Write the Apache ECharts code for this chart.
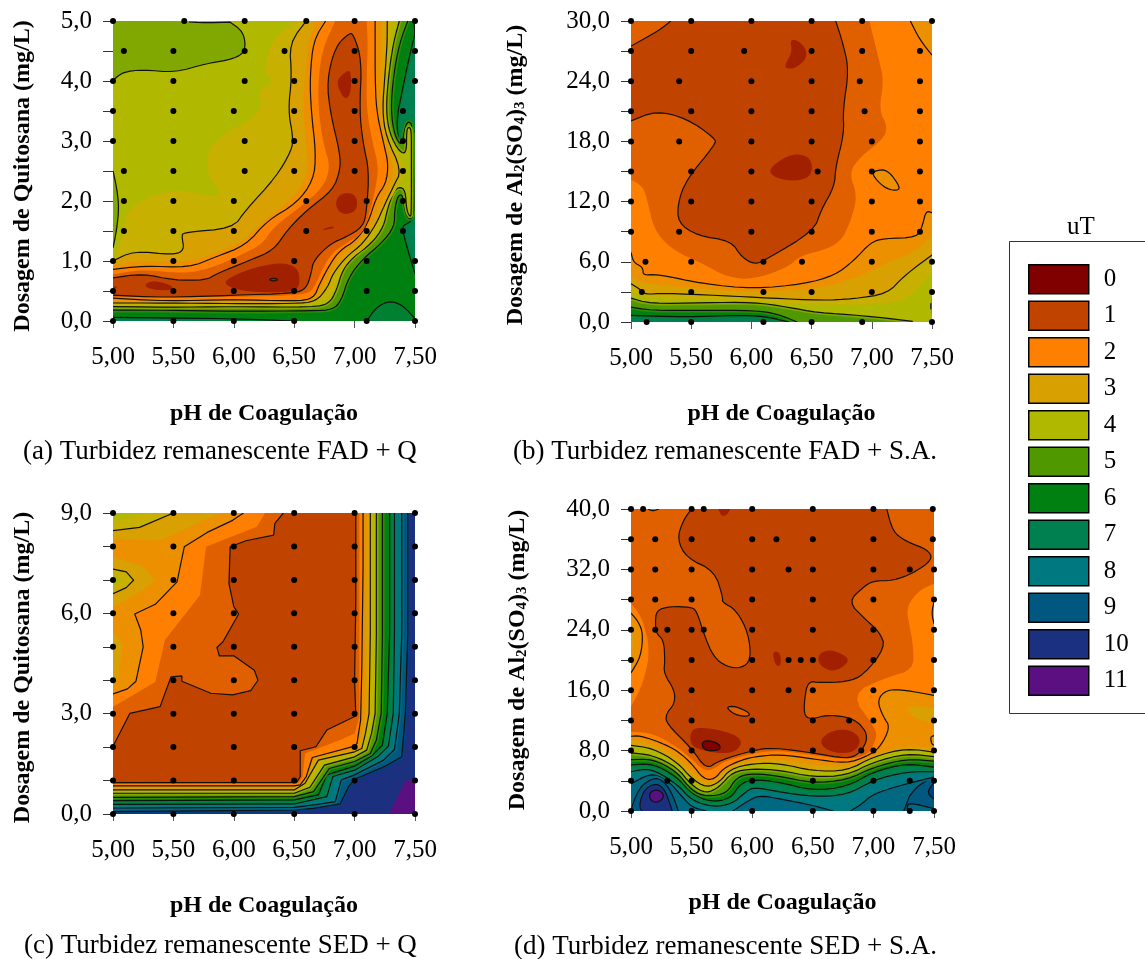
<!DOCTYPE html>
<html><head><meta charset="utf-8">
<style>html,body{margin:0;padding:0;background:#fff}#c{width:1145px;height:959px}</style>
<script src="https://cdn.jsdelivr.net/npm/echarts@6/dist/echarts.min.js"></script>
</head><body><div id="c"></div>
<script>
const bandColors={0:'#800000',0.5:'#a02000',1:'#c04400',1.5:'#e06000',2:'#ff8000',2.5:'#ec9000',3:'#d8a000',3.5:'#c8b000',4:'#b0b800',4.5:'#80a800',5:'#509800',5.5:'#288c08',6:'#008010',6.5:'#008030',7:'#008050',7.5:'#007c68',8:'#007880',8.5:'#006880',9:'#005880',9.5:'#004080',10:'#1c3080',10.5:'#3c2080',11:'#5a1080'};
const legendLevels=['0','1','2','3','4','5','6','7','8','9','10','11'];

// Panel (a) contour regions: flat [pH, dose, pH, dose, ...]
const aL7=[5,0,7.5,0,7.5,5,5,5];
const aL6=[7.49,5,7.5,4.79,7.44,4.29,7.39,3.79,7.35,3.40,7.36,2.98,7.40,2.98,7.42,3.26,7.44,3.33,7.49,3.26,7.5,2.79,7.5,1.84,7.47,1.67,7.43,1.62,7.39,1.57,7.44,1.18,7.5,.79,7.5,0,6.5,0,5.99,.04,5,.06,5,5];
const aHump=[7.10,0,7.18,.23,7.29,.34,7.40,.26,7.5,.04,7.5,0];
const aL5=[7.44,5,7.37,4.62,7.32,4.07,7.30,3.51,7.33,3.10,7.39,2.90,7.42,3.26,7.45,3.33,7.48,3.25,7.49,2.18,7.49,1.79,7.46,1.68,7.42,1.79,7.40,2.10,7.36,2.10,7.33,1.85,7.33,1.57,7.22,1.29,7.07,1.04,6.95,.73,6.89,.34,6.82,.19,6.66,.17,5.99,.16,5.44,.18,5,.18,5,5];
const aL4=[7.37,5,7.32,4.63,7.28,4.07,7.26,3.51,7.29,3.12,7.37,2.82,7.43,2.79,7.43,3.18,7.45,3.24,7.47,3.18,7.47,2.74,7.47,1.79,7.46,1.73,7.43,1.85,7.42,2.18,7.37,2.24,7.32,2.15,7.27,1.85,7.24,1.57,7.14,1.29,6.99,1.07,6.90,.85,6.85,.51,6.79,.29,6.66,.23,5.99,.24,5.44,.23,5,.24,5,5];
const aL35=[6.52,5,7.32,5,7.29,4.63,7.26,4.07,7.25,3.51,7.28,3.10,7.37,2.74,7.42,2.51,7.35,2.21,7.26,1.90,7.21,1.60,7.10,1.23,6.96,1.04,6.86,.73,6.82,.46,6.71,.28,5.99,.27,5,.27,5,1.04,5.06,1.23,5.10,1.73,5.19,1.98,5.52,2.21,5.80,2.07,5.90,2.12,5.77,2.46,5.80,2.99,6.24,3.46,6.20,3.85,6.34,3.99,6.24,4.15,6.32,4.71];
const aL3=[6.60,5,7.27,5,7.27,4.63,7.25,4.07,7.23,3.51,7.26,3.07,7.39,2.51,7.32,2.24,7.24,1.90,7.18,1.62,7.07,1.29,6.93,1.07,6.82,.79,6.78,.57,6.68,.32,6.50,.29,5.99,.29,5.44,.30,5,.30,5,1,5.17,1.17,5.50,1.10,5.59,1.18,5.57,1.40,5.58,1.48,5.99,1.54,6.10,1.85,6.35,2.40,6.48,2.85,6.49,3.07,6.45,3.51,6.48,4.07,6.46,4.63];
const aL25=[6.68,5,7.22,5,7.22,4.07,7.21,3.51,7.25,3.01,7.33,2.57,7.29,2.24,7.21,1.90,7.14,1.62,7.04,1.32,6.89,1.10,6.80,.82,6.74,.59,6.66,.34,5.99,.33,5,.33,5,.93,5.22,1.01,5.63,.98,5.83,1.12,6.08,1.32,6.21,1.62,6.44,1.96,6.60,2.34,6.61,2.79,6.57,3.51,6.59,4.07,6.62,4.68];
const aL2=[6.76,5,7.17,5,7.17,4.63,7.17,4.07,7.18,3.51,7.24,2.96,7.28,2.62,7.26,2.29,7.18,2.07,7.11,1.62,7.01,1.34,6.88,1.18,6.80,.96,6.71,.62,6.66,.37,6.50,.33,5.99,.36,5.44,.33,5,.38,5,.86,5.25,.92,5.63,.89,5.84,1.06,6.10,1.26,6.28,1.68,6.52,1.96,6.66,2.35,6.68,2.79,6.64,3.51,6.63,4.07,6.66,4.68];
const aL15=[6.84,5,7.10,5,7.11,4.63,7.10,4.07,7.10,3.51,7.15,2.96,7.20,2.57,7.17,2.18,7.13,1.84,7.07,1.46,6.95,1.32,6.82,1.15,6.74,.90,6.67,.57,6.60,.43,5.99,.40,5,.40,5,.78,5.25,.86,5.58,.79,5.80,.87,6.08,1.12,6.24,1.29,6.33,1.57,6.55,1.90,6.74,2.23,6.80,2.57,6.74,2.96,6.70,3.51,6.70,4.07,6.74,4.57];
const aL1=[5,.43,5.44,.39,5.99,.43,6.50,.46,6.60,.54,6.64,.79,6.66,1.01,6.80,1.29,6.93,1.40,7.07,1.57,7.10,1.84,7.12,2.51,7.07,2.96,7.04,3.51,7.06,4.34,6.99,4.79,6.95,4.79,6.84,4.57,6.77,4.01,6.80,3.46,6.88,2.79,6.88,2.51,6.82,2.18,6.60,1.84,6.44,1.51,6.33,1.18,6.13,1.01,5.86,.79,5.77,.68,5.50,.68,5.25,.79,5,.72];
const aB1=[6.95,4.19,6.97,4.12,6.97,3.79,6.92,3.68,6.86,3.90,6.86,4.04];
const aB2=[6.95,2.15,7.02,2.07,7.02,1.84,6.91,1.76,6.84,1.90,6.86,2.09];
const aB3=[6.71,1.51,6.82,1.59,6.83,1.54];
const aB4=[5.92,.68,6.13,.87,6.38,.98,6.53,.90,6.55,.62,6.50,.48,6.13,.48,5.95,.57];
const aB5=[5.25,.59,5.33,.68,5.50,.59,5.48,.51,5.33,.52];
const aB6=[5,.57,5.04,.58,5,.51];
const aDiamond=[6.29,.69,6.33,.72,6.37,.69,6.33,.66];
const aTopLeft=[5.51,5,5.72,4.97,5.97,4.98,6.08,4.82,6.10,4.51,6.01,4.37,5.77,4.29,5.51,4.14,5.25,4.19,5.08,4.15,5,4.01,5,5];
const aLeftStrip=[5,2.5,5.03,2.23,5.05,1.90,5.03,1.51,5,1.22];
// [band level, contour line?, region, halo?]
const layersA=[[7,0,aL7],[6,1,aL6,1],[6.5,1,aHump],[5,1,aL5,1],[4,1,aL4,1],[3.5,0,aL35],[3,1,aL3],[2.5,0,aL25],[2,1,aL2],[1.5,0,aL15],[1,1,aL1],
 [0.5,0,aB1],[0.5,0,aB2],[0.5,0,aB3],[0.5,0,aB4],[0.5,0,aB5],[0.5,0,aB6],[0.5,1,aDiamond],[4.5,1,aTopLeft],[4.5,1,aLeftStrip]];
const pointsA=[[5,[5,5.59,6.09,6.6,7,7.5]],[4.5,[5.09,5.5,6.09,6.42,7,7.5]],[4,[5,5.5,6.09,6.5,7,7.5]],[3.5,[5,5.5,6,6.5,7,7.4]],[3,[5,5.5,6.09,6.5,7,7.4]],[2.5,[5.09,5.5,6.09,6.5,7,7.4]],[2,[5.09,5.5,6,6.6,7.1,7.4]],[1.5,[5.09,5.5,6,6.6,7.1,7.4]],[1,[5,5.5,6,6.5,7.1,7.5]],[.5,[5,5.5,6,6.5,7.1,7.5]],[0,[5,5.5,6,6.5,7.1,7.5]]];

// Panel (b)
const bBack=[5,0,7.5,0,7.5,30,5,30];
const bL6=[5,.66,5.46,.5,5.88,.66,6.10,.59,6.31,0,7.5,0,7.5,30,5,30];
const bTeal=[5.85,0,5.85,.07,6.05,.07,6.05,0];
const bL5=[5,1.49,5.16,1.16,5.60,1.16,6.02,1.16,6.21,.83,6.38,0,7.5,0,7.5,30,5,30];
const bL4=[5,2.38,5.16,1.82,5.60,1.92,6.02,1.98,6.30,1.49,6.55,.93,6.91,.66,7.34,.07,7.35,0,7.5,0,7.5,30,5,30];
const bEdge=[7.5,2.64,7.49,1.98,7.49,1.16,7.5,.5];
const bL35=[5,2.97,5.16,2.31,5.74,2.25,6.58,1.65,7.19,1.82,7.33,2.64,7.5,4.96,7.5,30,5,30];
const bL3=[5,3.80,5.09,3.14,5.12,2.74,5.27,2.87,5.74,2.64,6.16,2.38,6.58,2.15,6.85,2.31,7.13,2.81,7.27,4.63,7.5,6.67,7.5,30,5,30];
const bL25=[5,4.63,5.10,3.80,5.60,3.30,6.02,2.97,6.58,3.30,6.91,4.63,7.13,5.95,7.35,6.94,7.5,8.59,7.5,30,5,30];
const bL2=[5,6.94,5.02,5.95,5.10,5.45,5.10,4.63,5.21,4.79,5.60,3.80,6.02,3.30,6.44,3.80,6.69,4.63,6.85,6.11,6.99,7.93,7.10,8.33,7.38,8.43,7.42,9.58,7.45,11.07,7.5,10.90,7.5,30,5,30];
const bL15=[6.98,30,7.06,26.1,7.10,24.1,7.06,21.1,7.13,19.5,7.10,18.3,6.91,16.5,6.81,14.9,6.88,12.6,6.83,10.2,6.74,7.93,6.58,7.10,6.41,6.61,6.30,5.45,6.02,4.23,5.80,4.46,5.60,5.78,5.33,7.27,5.19,9.25,5.14,11.9,5.10,13.5,5,14.2,5,30];
const bL1=[5,20.05,5.21,21.05,5.46,20.3,5.70,18.3,5.70,17.7,5.46,14.2,5.39,11.9,5.39,9.9,5.55,8.6,5.83,8.1,5.92,6.44,6.03,5.72,6.13,6.28,6.52,9.09,6.58,11.2,6.69,13.5,6.70,15.5,6.77,18.8,6.76,21.1,6.81,25.1,6.76,27.8,6.70,30,5.33,30,5.24,29.1,5,27.5];
const bB1=[6.32,28.1,6.38,28.1,6.45,27.3,6.46,26.3,6.38,25.4,6.31,25.2,6.27,25.5,6.34,26.9];
const bB2=[6.14,15.2,6.27,16.4,6.38,16.8,6.48,16.4,6.51,15.4,6.48,14.4,6.35,14.0,6.19,14.4];
const bCorner=[7.32,30,7.40,28.1,7.5,26.6,7.5,30];
const bIsle=[7.03,15.1,7.13,15.2,7.24,13.4,7.20,13.05,7.10,13.4,7,14.7];
const layersB=[[7,0,bBack],[6,1,bL6,1],[7.5,1,bTeal],[5,1,bL5,1],[4,1,bL4,1],[4.5,1,bEdge],[3.5,0,bL35],[3,1,bL3],[2.5,0,bL25],[2,1,bL2],[1.5,0,bL15],[1,1,bL1],[0.5,0,bB1],[0.5,0,bB2],[2.5,1,bCorner],[2.5,1,bIsle]];
const pointsB=[[30,[5,5.5,6,6.5,6.92,7.5]],[27,[5,5.5,5.94,6.5,6.92,7.4]],[24,[5,5.4,6,6.5,6.9,7.4]],[21,[5,5.5,6,6.5,6.94,7.4]],[18,[5,5.4,6,6.5,7,7.4]],[15,[5,5.5,6,6.55,7,7.4]],[12,[5,5.5,6,6.5,7,7.4]],[9,[5,5.4,6,6.5,7,7.4]],[6,[5.12,5.5,6.1,6.42,7,7.5]],[3,[5.09,5.5,6.1,6.5,7,7.5]],[0,[5.13,5.5,6.1,6.5,6.92,7.5]]];

// Panel (c)
const cBack=[5,0,7.5,0,7.5,9,5,9];
const cL10=[7.5,1.04,7.42,1.0,7.37,.62,7.28,0,5,0,5,9,7.5,9];
const cL9=[7.44,9,7.44,5.39,7.42,3.01,7.39,1.71,7.26,1.44,7,1.04,6.95,.82,6.88,.30,6.66,.17,6.5,.12,5,.07,5,9];
const cL8=[7.39,9,7.39,5.39,7.37,3.01,7.33,1.93,7.24,1.61,7,1.17,6.89,1.02,6.84,.37,6.66,.27,6.5,.20,5,.18,5,9];
const cL7=[7.33,9,7.33,5.39,7.32,3.01,7.28,2.03,7.19,1.71,7,1.31,6.82,1.12,6.77,.52,6.5,.30,5,.29,5,9];
const cL6=[7.29,9,7.29,5.39,7.27,3.01,7.23,2.06,7.15,1.76,7,1.43,6.77,1.17,6.70,.57,6.5,.42,5,.40,5,9];
const cL5=[7.23,9,7.23,5.39,7.22,3.01,7.18,2.21,7.13,1.81,7,1.57,6.79,1.36,6.66,.67,6.5,.52,5,.50,5,9];
const cL4=[7.18,9,7.18,5.39,7.17,3.01,7.14,2.41,7.10,1.91,7,1.71,6.75,1.46,6.63,.80,6.5,.62,5,.62,5,9];
const cL35=[5.25,9,7.15,9,7.15,3.01,7.11,2.41,7.08,1.93,7,1.79,6.73,1.54,6.61,.86,6.5,.67,5,.67,5,8.73];
const cL3=[5.5,9,7.13,9,7.13,5.39,7.12,3.01,7.09,2.41,7.06,1.96,7,1.86,6.70,1.61,6.59,.92,6.5,.72,5,.72,5,8.47,5.22,8.57];
const cL25=[5,8.21,5.40,8.19,5.75,8.78,5.91,9,7.10,9,7.09,3.01,7.06,2.41,7.03,2.01,7,1.93,6.67,1.66,6.56,.97,6.5,.77,5,.77,5,4.0,5.04,4.0,5.08,5.10,5,5.45,5,6.19,5.21,6.61,5.35,6.99,5.25,7.39,5,7.69];
const cIsle=[5,7.32,5.11,7.24,5.17,6.99,5.11,6.77,5,6.59];
const cCore=[5,7.14,5.07,6.99,5,6.84];
const cL2=[6.08,9,7.07,9,7.07,7.39,7.06,4.40,7.05,2.81,7.02,2.11,7,2.03,6.65,1.69,6.60,1.12,6.55,.87,6.5,.84,5,.84,5,3.59,5.12,3.74,5.19,3.97,5.25,5.0,5.23,5.5,5.18,5.98,5.35,6.27,5.53,6.94,5.59,7.99,5.78,8.42,5.99,8.78];
const cL15=[6.26,9,7.04,9,7.04,2.91,7,2.41,6.88,2.21,6.59,1.81,6.57,1.12,6.54,.94,5,.90,5,3.21,5.35,3.95,5.43,5.20,5.72,6.54,5.77,7.99,6.19,8.59];
const cL1=[6.41,9,7.01,9,7.01,8.39,7.01,6.39,7,4.0,7.01,2.93,6.77,2.51,6.68,2.01,6.55,1.89,6.55,1.12,6.52,.94,5,.94,5,2.02,5.14,3.01,5.39,3.21,5.48,4.10,5.57,4.13,5.57,3.97,5.81,3.61,5.99,3.56,6.14,3.69,6.20,4.0,6.17,4.30,6.0,4.73,5.88,4.73,5.86,4.98,5.91,5.15,6.04,5.98,6.0,6.20,5.96,6.89,5.97,7.99,6.10,8.17,6.33,8.34,6.34,8.69];
const layersC=[[11,0,cBack],[10,0,cL10],[9,1,cL9,1],[8,1,cL8,1],[7,1,cL7,1],[6,1,cL6,1],[5,1,cL5,1],[4,1,cL4,1],[3.5,0,cL35],[3,1,cL3],[2.5,0,cL25],[3.5,1,cIsle],[4,0,cCore],[2,1,cL2],[1.5,0,cL15],[1,1,cL1]];
const pointsC=[9,8,7,6,5,4,3,2,1,0].map(y=>[y,[5,5.5,6,6.5,7,7.5]]);

// Panel (d)
const dBack=[5,0,7.5,0,7.5,40,5,40];
const dS9=[5,0,5.02,1.2,5.05,2.3,5.10,3.6,5.21,4.5,5.29,3.6,5.35,1.9,5.39,0];
const dS10=[5.07,.5,5.08,1.6,5.12,3,5.21,3.7,5.28,2.8,5.32,1,5.34,0,5.09,0];
const dS11=[5.15,2.4,5.21,2.9,5.27,2.3,5.26,1.5,5.21,1.1,5.16,1.4];
const dR9=[7.30,2.1,7.38,3.5,7.5,4.6,7.5,0,7.25,0,7.28,1.2];
const dR95=[7.45,2.7,7.5,3.8,7.5,1.6,7.46,2.1];
const dR85=[7.28,1.2,7.5,.3,7.5,0,7.28,0];
const dL8=[5,3.6,5.16,5,5.29,4.3,5.40,2.3,5.5,.5,5.62,0,5.84,0,5.95,1.2,6.06,2.1,6.23,1.6,6.5,.75,6.67,0,6.81,0,6.89,.75,7,2.3,7.27,3.6,7.5,4.5,7.5,40,5,40];
const dL7=[5,5.2,5.16,5.7,5.38,3.6,5.5,1.4,5.68,.5,5.84,1,5.93,2.3,6.01,3.2,6.23,2.5,6.5,1.9,6.78,2.1,7,4.1,7.27,5.2,7.5,5.2,7.5,40,5,40];
const dL6=[5,6.1,5.18,6.3,5.38,4.5,5.5,2.3,5.65,1.2,5.82,1.6,5.90,3.6,6.01,4.2,6.23,3.8,6.5,2.7,6.78,3.2,7,5.2,7.27,6.3,7.5,5.8,7.5,40,5,40];
const dL5=[5,6.8,5.18,6.9,5.38,5.2,5.5,2.7,5.62,1.9,5.79,2.3,5.87,4.5,6.01,5,6.23,4.6,6.5,3.7,6.78,4.1,7,5.8,7.27,6.9,7.5,6.6,7.5,40,5,40];
const dL4=[5,7.7,5.18,7.4,5.38,5.8,5.5,3.4,5.62,2.3,5.73,3.2,5.84,5.2,6.01,5.6,6.23,5.4,6.5,4.5,6.78,4.7,7,6.5,7.27,7.6,7.5,7.2,7.5,40,5,40];
const dL3=[5,8.7,5.18,8.3,5.38,6.5,5.5,4.3,5.62,3.1,5.73,3.8,5.82,5.6,6.01,6.3,6.23,6.3,6.5,5.3,6.78,5.3,7,7.2,7.27,8.3,7.5,7.8,7.5,40,5,40];
const dL25=[5,9.4,5.18,8.9,5.38,7.2,5.5,5.2,5.62,3.6,5.73,4.5,5.82,6.1,6.01,6.7,6.23,6.9,6.5,6.1,6.78,5.8,7,7.4,7.27,8.7,7.5,8.3,7.5,40,5,40];
const dBlob3=[7.27,13.8,7.38,13.9,7.5,13.6,7.5,11.8,7.38,12,7.30,12.9];
const dSmall=[7.47,9.8,7.5,10,7.5,8.7,7.48,8.9];
const dL2=[5,9.9,5.07,10,5.24,9.1,5.38,8,5.5,6.3,5.60,4.2,5.69,4.2,5.76,5.6,5.87,6.5,6.01,7.2,6.23,7.5,6.5,6.9,6.78,6.3,6.94,7.2,7.05,8.3,7.14,11.1,7.08,12.5,7.03,14.7,7.11,16.1,7.27,16,7.5,15.3,7.5,40,5,40];
const dL15=[5,10.5,5.18,10.3,5.38,8.5,5.5,6.9,5.61,5.2,5.71,5.8,5.76,6.5,6.01,7.7,6.23,8,6.5,7.4,6.78,6.8,6.96,7.4,7.03,9.8,7.01,11.1,6.81,15.5,7.11,17.7,7.33,18.7,7.33,21.7,7.30,24.4,7.27,27,7.38,29.3,7.5,30.1,7.5,40,5,40,5,27.5,5.09,25.7,5.16,21.3,5.10,16.9,5,13.8];
const dL1=[5.5,40,5.43,38.5,5.38,36,5.46,33.5,5.69,31.8,5.76,28.2,5.75,27.7,5.87,26.6,5.97,23.5,5.99,20,5.91,18.9,5.79,19.1,5.68,20.4,5.60,23.5,5.54,26.6,5.49,27,5.32,27.1,5.21,26.6,5.20,24.8,5.21,23.5,5.27,22.6,5.28,20,5.27,18.2,5.36,16,5.36,14.2,5.29,12.9,5.29,11.6,5.5,8.3,5.62,5.5,5.73,6.7,6,8,6.17,8.4,6.5,7.7,6.78,6.9,6.89,7.6,6.96,9.8,6.89,11.6,6.78,12.5,6.61,12.7,6.5,12.2,6.43,12.5,6.43,14.7,6.46,17.2,6.56,17,6.78,17.1,6.92,18,7.10,21.7,7.05,23.7,6.94,25.3,6.79,27.7,6.92,29.7,7,30.5,7.16,30.5,7.33,31.5,7.49,33.3,7.45,34.6,7.27,35.7,7.16,37,7.11,40];
const dHole=[5.78,13.8,5.86,13.9,5.98,13,5.97,12.5,5.86,12.7];
const dTopHole=[5.14,40,5.18,39.7,5.23,40];
const dB1=[5.72,40,5.82,40,5.79,39.2,5.75,39];
const dB2=[6.17,21.2,6.23,21,6.24,19.5,6.21,19.1,6.18,19.8];
const dB3=[6.54,20.4,6.59,21.2,6.67,21.3,6.81,20.2,6.74,18.9,6.64,18.5,6.56,19.3];
const dB4=[5.49,10.3,5.53,11.1,5.71,10.8,5.86,10.1,5.92,9.1,5.86,7.8,5.72,7.6,5.53,8.3,5.49,9.1];
const dB5=[6.55,9.1,6.63,10.5,6.78,10.9,6.88,10,6.89,8.7,6.81,7.6,6.64,7.8];
const dB0=[5.58,8.9,5.62,9.4,5.72,9,5.74,8.3,5.71,8,5.61,8];
const dLeft=[5,26.2,5.06,25.1,5.10,23.5,5.08,20.4,5,18.3];
const dLeftCore=[5,24,5.02,23.5,5.02,21.7,5,20.9];
const dRight=[7.5,27.7,7.48,26.2,7.5,24.8];
const layersD=[[8.5,0,dBack],[9,1,dS9],[10,1,dS10],[11,1,dS11],[9,1,dR9],[9.5,1,dR95],[8.5,1,dR85],[8,1,dL8,1],[7,1,dL7,1],[6,1,dL6,1],[5,1,dL5,1],[4,1,dL4,1],[3,1,dL3],[2.5,0,dL25],[3,0,dBlob3],[2.5,1,dSmall],[2,1,dL2],[1.5,0,dL15],[1,1,dL1],[1.5,1,dHole],[1.5,1,dTopHole],[0.5,0,dB1],[0.5,0,dB2],[0.5,0,dB3],[0.5,0,dB4],[0.5,0,dB5],[0,1,dB0],[2.5,1,dLeft],[3,0,dLeftCore],[2.5,1,dRight]];
const pointsD=[[40,[5,5.1,5.5,5.6,6,6.5,7,7.49]],[36,[5,5.2,5.5,6,6.2,6.5,7,7.49]],[32,[5,5.2,5.5,6,6.3,6.5,7,7.3,7.5]],[28,[5,5.2,5.5,6,6.5,7,7.5]],[24,[5,5.2,5.3,5.5,5.6,6,6.5,7,7.5]],[20,[5,5.5,6,6.3,6.4,6.5,7,7.5]],[16,[5,5.5,6,6.3,6.5,7,7.5]],[12,[5,5.5,6,6.5,6.8,7,7.5]],[8,[5,5.5,6,6.5,6.9,7,7.5]],[4,[5,5.3,5.5,6,6.5,7,7.3,7.5]],[0,[5,5.5,6,6.5,7,7.3,7.5]]];

const serif='"Liberation Serif","Times New Roman",serif';
const FS=25,TS=24,CS=27;
const panels=[
 {grid:[113,21,302,300],ymax:5,step:.5,major:1,layers:layersA,pts:pointsA,smooth:true,yname:'Dosagem de Quitosana (mg/L)',ygap:78,shift:10,xgap:81,cap:'(a) Turbidez remanescente FAD + Q',capx:23,capy:438},
 {grid:[631,21,301,301],ymax:30,step:3,major:6,layers:layersB,pts:pointsB,smooth:true,yname:'{b|Dosagem de Al}{s|2}{b|(SO}{s|4}{b|)}{s|3}{b| (mg/L)}',ygap:103,shift:7,xgap:80,cap:'(b) Turbidez remanescente FAD + S.A.',capx:513,capy:438},
 {grid:[113,513,302,301],ymax:9,step:1,major:3,layers:layersC,pts:pointsC,smooth:false,yname:'Dosagem de Quitosana (mg/L)',ygap:78,shift:8,xgap:80,cap:'(c) Turbidez remanescente SED + Q',capx:24,capy:932},
 {grid:[631,509,303,302],ymax:40,step:4,major:8,layers:layersD,pts:pointsD,smooth:true,yname:'{b|Dosagem de Al}{s|2}{b|(SO}{s|4}{b|)}{s|3}{b| (mg/L)}',ygap:101,shift:0,xgap:80,cap:'(d) Turbidez remanescente SED + S.A.',capx:514,capy:933}
];

function onEdge(q,r){
 let m=0;const e=1.2;
 if(Math.abs(q[0]-r.x)<e)m|=1;
 if(Math.abs(q[0]-r.x-r.width)<e)m|=2;
 if(Math.abs(q[1]-r.y)<e)m|=4;
 if(Math.abs(q[1]-r.y-r.height)<e)m|=8;
 return m;
}
function smoothPts(p,rect,n){
 for(let k=0;k<n;k++){
  const o=[];
  p.forEach((c,i)=>{
   if(onEdge(c,rect)){o.push(c);return;}
   const a=p[(i-1+p.length)%p.length],b=p[(i+1)%p.length];
   o.push([.75*c[0]+.25*a[0],.75*c[1]+.25*a[1]]);
   o.push([.75*c[0]+.25*b[0],.75*c[1]+.25*b[1]]);
  });
  p=o;
 }
 return p;
}
function runs(p,rect){
 // contour runs: skip the polygon edges that lie along the plot border
 const n=p.length;let start=-1;
 for(let i=0;i<n;i++){if(onEdge(p[i],rect)&onEdge(p[(i+1)%n],rect)){start=(i+1)%n;break;}}
 if(start<0)return [p.concat([p[0]])];
 const out=[];let cur=[p[start]];
 for(let k=0;k<n;k++){
  const i=(start+k)%n,j=(i+1)%n;
  if(onEdge(p[i],rect)&onEdge(p[j],rect)){if(cur.length>1)out.push(cur);cur=[p[j]];}
  else cur.push(p[j]);
 }
 if(cur.length>1)out.push(cur);
 return out;
}
function renderLayer(panel){
 return function(params,api){
  const L=panel.layers[params.dataIndex];
  const rect=params.coordSys;
  let pts=[];
  for(let i=0;i<L[2].length;i+=2)pts.push(api.coord([L[2][i],L[2][i+1]]));
  if(panel.smooth)pts=smoothPts(pts,rect,2);
  const kids=[];
  const segs=(L[1]||L[3])?runs(pts,rect):[];
  if(L[3])segs.forEach(s=>kids.push({type:'polyline',shape:{points:s},style:{fill:null,stroke:bandColors[L[0]+.5],lineWidth:4.5,lineJoin:'round'}}));
  kids.push({type:'polygon',shape:{points:pts},style:{fill:bandColors[L[0]],stroke:null}});
  if(L[1])segs.forEach(s=>kids.push({type:'polyline',shape:{points:s},style:{fill:null,stroke:'#111',lineWidth:1.2,lineJoin:'round'}}));
  return {type:'group',children:kids};
 };
}
const comma=(v,d)=>v.toFixed(d).replace('.',',');
const subRich={b:{fontFamily:serif,fontWeight:'bold',fontSize:TS,color:'#000'},s:{fontFamily:serif,fontWeight:'bold',fontSize:15,color:'#000',verticalAlign:'bottom',padding:[8,0,0,0]}};
const option={animation:false,backgroundColor:'#fff',
 title:panels.map(p=>({text:p.cap,left:p.capx,top:p.capy,padding:0,textStyle:{fontFamily:serif,fontSize:CS,fontWeight:'normal',color:'#000'}})),
 grid:panels.map(p=>({left:p.grid[0],top:p.grid[1],width:p.grid[2],height:p.grid[3],show:false,containLabel:false})),
 xAxis:panels.map((p,i)=>({gridIndex:i,type:'value',min:5,max:7.5,interval:.5,splitLine:{show:false},axisLine:{show:false},
  axisTick:{show:true,length:7,lineStyle:{color:'#555'}},
  axisLabel:{margin:24,fontFamily:serif,fontSize:FS,color:'#000',showMinLabel:true,showMaxLabel:true,formatter:v=>comma(v,2)},
  name:'pH de Coagulação',nameLocation:'middle',nameGap:p.xgap,nameTextStyle:{fontFamily:serif,fontSize:TS,fontWeight:'bold',color:'#000'}})),
 yAxis:panels.map((p,i)=>({gridIndex:i,type:'value',min:0,max:p.ymax,interval:p.step,splitLine:{show:false},axisLine:{show:false},
  axisTick:{show:true,length:10,lineStyle:{color:'#333'}},
  axisLabel:{margin:21,fontFamily:serif,fontSize:FS,color:'#000',showMinLabel:true,showMaxLabel:true,formatter:v=>(Math.abs(v/p.major-Math.round(v/p.major))<1e-6)?comma(v,1):''},
  name:p.yname,nameLocation:'middle',nameRotate:90,nameGap:p.ygap,nameTextStyle:{fontFamily:serif,fontSize:TS,fontWeight:'bold',color:'#000',padding:[0,p.shift,0,0],rich:subRich}})),
 legend:{orient:'vertical',left:1028,top:264,padding:0,itemWidth:60,itemHeight:29,itemGap:6,icon:'rect',selectedMode:false,
  data:legendLevels,itemStyle:{borderColor:'#000',borderWidth:1.5,opacity:1},textStyle:{fontFamily:serif,fontSize:FS,color:'#000',lineHeight:25,padding:[0,0,0,10]}},
 graphic:[
  {type:'rect',silent:true,z:-1,shape:{x:1009.5,y:241.5,width:200,height:472},style:{fill:'#fff',stroke:'#333',lineWidth:1}},
  {type:'text',silent:true,style:{x:1081,y:227,text:'uT',fill:'#000',font:'25px '+serif,textAlign:'center',textVerticalAlign:'middle'}}
 ],
 series:[]
};
panels.forEach((p,i)=>{
 option.series.push({type:'custom',xAxisIndex:i,yAxisIndex:i,clip:true,silent:true,z:2,renderItem:renderLayer(p),
  data:p.layers.map(l=>[l[2][0],l[2][1]]),encode:{x:0,y:1}});
 const dots=[];p.pts.forEach(r=>r[1].forEach(x=>dots.push([x,r[0]])));
 option.series.push({type:'scatter',xAxisIndex:i,yAxisIndex:i,clip:false,silent:true,z:5,symbolSize:6,itemStyle:{color:'#000',opacity:1},data:dots});
});
legendLevels.forEach(n=>option.series.push({type:'scatter',name:n,xAxisIndex:0,yAxisIndex:0,data:[],itemStyle:{color:bandColors[+n],opacity:1}}));
const chart=echarts.init(document.getElementById('c'),null,{renderer:'canvas'});
chart.setOption(option);
</script></body></html>
